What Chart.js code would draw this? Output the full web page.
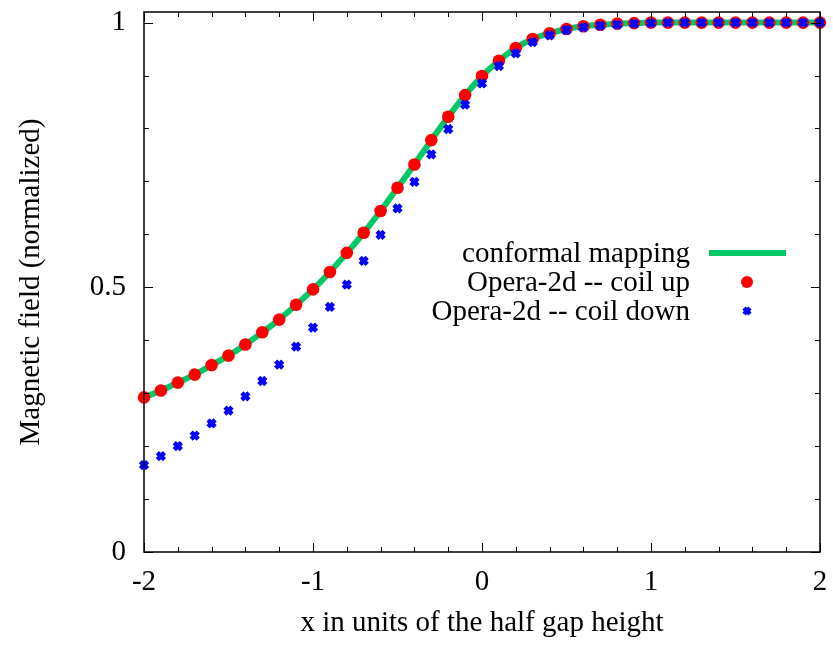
<!DOCTYPE html>
<html>
<head>
<meta charset="utf-8">
<script src="https://cdn.jsdelivr.net/npm/chart.js@4.4.1/dist/chart.umd.min.js"></script>
<style>
  html, body { margin: 0; padding: 0; background: #fff; }
  #wrap { width: 833px; height: 646px; }
</style>
</head>
<body>
<div id="wrap"><canvas id="chart" width="833" height="646"></canvas></div>
<script>
// x positions (units of half gap height)
const xs = [-2.0, -1.9, -1.8, -1.7, -1.6, -1.5, -1.4, -1.3, -1.2, -1.1,
            -1.0, -0.9, -0.8, -0.7, -0.6, -0.5, -0.4, -0.3, -0.2, -0.1,
             0.0,  0.1,  0.2,  0.3,  0.4,  0.5,  0.6,  0.7,  0.8,  0.9,
             1.0,  1.1,  1.2,  1.3,  1.4,  1.5,  1.6,  1.7,  1.8,  1.9, 2.0];

// conformal mapping curve
const conformal = [0.292, 0.305, 0.320, 0.335, 0.353, 0.371, 0.392, 0.415, 0.439, 0.467,
                   0.496, 0.529, 0.565, 0.603, 0.644, 0.688, 0.732, 0.778, 0.822, 0.863,
                   0.899, 0.928, 0.952, 0.969, 0.980, 0.988, 0.993, 0.996, 0.998, 0.999,
                   1.000, 1.000, 1.000, 1.000, 1.000, 1.000, 1.000, 1.000, 1.000, 1.000, 1.000];

// Opera-2d, coil up
const coilUp = [0.292, 0.305, 0.320, 0.335, 0.353, 0.371, 0.392, 0.415, 0.439, 0.467,
                0.496, 0.529, 0.565, 0.603, 0.644, 0.688, 0.732, 0.778, 0.822, 0.863,
                0.899, 0.928, 0.952, 0.969, 0.980, 0.988, 0.993, 0.996, 0.998, 0.999,
                1.000, 1.000, 1.000, 1.000, 1.000, 1.000, 1.000, 1.000, 1.000, 1.000, 1.000];

// Opera-2d, coil down
const coilDown = [0.164, 0.181, 0.200, 0.220, 0.243, 0.267, 0.294, 0.323, 0.354, 0.388,
                  0.424, 0.463, 0.505, 0.550, 0.599, 0.649, 0.699, 0.751, 0.799, 0.845,
                  0.885, 0.918, 0.942, 0.963, 0.976, 0.986, 0.991, 0.994, 0.996, 0.998,
                  0.999, 1.000, 1.000, 1.000, 1.000, 1.000, 1.000, 1.000, 1.000, 1.000, 1.000];

const xTickVals = [-2, -1, 0, 1, 2];
const yTickVals = [0, 0.5, 1];

const FONT = "'Liberation Serif', 'Times New Roman', serif";
const FSIZE = 29;

function pts(ys) {
    return xs.map((x, i) => ({ x: x, y: ys[i] }));
}

// frame with inward ticks on all four sides (gnuplot style)
const framePlugin = {
    id: 'frame',
    afterDatasetsDraw(chart) {
        const ctx = chart.ctx;
        const a = chart.chartArea;
        const xs_ = chart.scales.x;
        const ys_ = chart.scales.y;
        ctx.save();
        ctx.strokeStyle = '#000';
        ctx.lineWidth = 1;
        // minor + major x ticks every 0.2
        for (let i = 0; i <= 20; i++) {
            const v = -2 + i * 0.2;
            const px = Math.round(xs_.getPixelForValue(v)) + 0.5;
            const len = (i % 5 === 0) ? 9 : 5;
            ctx.beginPath();
            ctx.moveTo(px, a.bottom); ctx.lineTo(px, a.bottom - len);
            ctx.moveTo(px, a.top); ctx.lineTo(px, a.top + len);
            ctx.stroke();
        }
        // y ticks every 0.1
        for (let i = 0; i <= 10; i++) {
            const v = i * 0.1;
            const py = Math.round(ys_.getPixelForValue(v)) + 0.5;
            const len = (i % 5 === 0) ? 9 : 5;
            ctx.beginPath();
            ctx.moveTo(a.left, py); ctx.lineTo(a.left + len, py);
            ctx.moveTo(a.right, py); ctx.lineTo(a.right - len, py);
            ctx.stroke();
        }
        ctx.lineWidth = 1.5;
        ctx.strokeRect(a.left, a.top, a.right - a.left, a.bottom - a.top);
        ctx.restore();
    }
};

// legend: text right-aligned, sample on the right
const legendPlugin = {
    id: 'gpLegend',
    afterDraw(chart) {
        const ctx = chart.ctx;
        const textRight = 690;
        const sampleX = 747;
        const rows = [253, 282, 311];
        ctx.save();
        ctx.font = FSIZE + 'px ' + FONT;
        ctx.fillStyle = '#000';
        ctx.textAlign = 'right';
        ctx.textBaseline = 'middle';
        chart.data.datasets.forEach((ds, i) => {
            const y = rows[ds.legendRow];
            ctx.fillText(ds.label, textRight, y + 1);
            if (ds.legendRow === 0) {
                ctx.strokeStyle = ds.borderColor;
                ctx.lineWidth = ds.borderWidth;
                ctx.beginPath();
                ctx.moveTo(709, y); ctx.lineTo(786, y);
                ctx.stroke();
            } else if (ds.legendRow === 1) {
                ctx.fillStyle = ds.backgroundColor;
                ctx.beginPath();
                ctx.arc(sampleX, y, 6, 0, Math.PI * 2);
                ctx.fill();
                ctx.fillStyle = '#000';
            } else {
                ctx.strokeStyle = ds.borderColor;
                ctx.lineWidth = 4.5;
                ctx.beginPath();
                ctx.moveTo(sampleX - 3, y - 3); ctx.lineTo(sampleX + 3, y + 3);
                ctx.moveTo(sampleX - 3, y + 3); ctx.lineTo(sampleX + 3, y - 3);
                ctx.stroke();
            }
        });
        ctx.restore();
    }
};

new Chart(document.getElementById('chart'), {
    type: 'scatter',
    data: {
        datasets: [
            {
                label: 'Opera-2d -- coil down',
                legendRow: 2,
                data: pts(coilDown),
                pointStyle: 'crossRot',
                pointRadius: 5,
                borderColor: '#0000ff',
                backgroundColor: '#0000ff',
                borderWidth: 4.5,
                showLine: false,
                order: 0
            },
            {
                label: 'Opera-2d -- coil up',
                legendRow: 1,
                data: pts(coilUp),
                pointStyle: 'circle',
                pointRadius: 6.3,
                borderWidth: 0,
                backgroundColor: '#ff0000',
                borderColor: '#ff0000',
                showLine: false,
                order: 1
            },
            {
                label: 'conformal mapping',
                legendRow: 0,
                data: pts(conformal),
                showLine: true,
                pointRadius: 0,
                borderColor: '#00c864',
                borderWidth: 6,
                cubicInterpolationMode: 'monotone',
                order: 2
            }
        ]
    },
    options: {
        responsive: false,
        animation: false,
        events: [],
        layout: { padding: { left: 0, top: 12, right: 13, bottom: 0 } },
        plugins: {
            legend: { display: false },
            tooltip: { enabled: false }
        },
        elements: { point: { hitRadius: 0 } },
        datasets: { scatter: { clip: false } },
        scales: {
            x: {
                type: 'linear',
                min: -2,
                max: 2,
                afterBuildTicks: s => { s.ticks = xTickVals.map(v => ({ value: v })); },
                afterFit: s => { s.height = 94; s.paddingLeft = 0; s.paddingRight = 0; },
                grid: { display: false, drawTicks: false },
                border: { display: false },
                ticks: {
                    color: '#000',
                    padding: 13,
                    maxRotation: 0,
                    font: { family: FONT, size: FSIZE },
                    callback: v => String(v)
                },
                title: {
                    display: true,
                    text: 'x in units of the half gap height',
                    color: '#000',
                    font: { family: FONT, size: FSIZE },
                    padding: { top: 0, bottom: 5 }
                }
            },
            y: {
                type: 'linear',
                min: 0,
                max: 1.02,
                afterBuildTicks: s => { s.ticks = yTickVals.map(v => ({ value: v })); },
                afterFit: s => { s.width = 144; s.paddingTop = 0; s.paddingBottom = 0; },
                grid: { display: false, drawTicks: false },
                border: { display: false },
                ticks: {
                    color: '#000',
                    padding: 18,
                    font: { family: FONT, size: FSIZE },
                    callback: v => String(v)
                },
                title: {
                    display: true,
                    text: 'Magnetic field (normalized)',
                    color: '#000',
                    font: { family: FONT, size: FSIZE },
                    padding: { top: 14, bottom: 0 }
                }
            }
        }
    },
    plugins: [framePlugin, legendPlugin]
});
</script>
</body>
</html>
